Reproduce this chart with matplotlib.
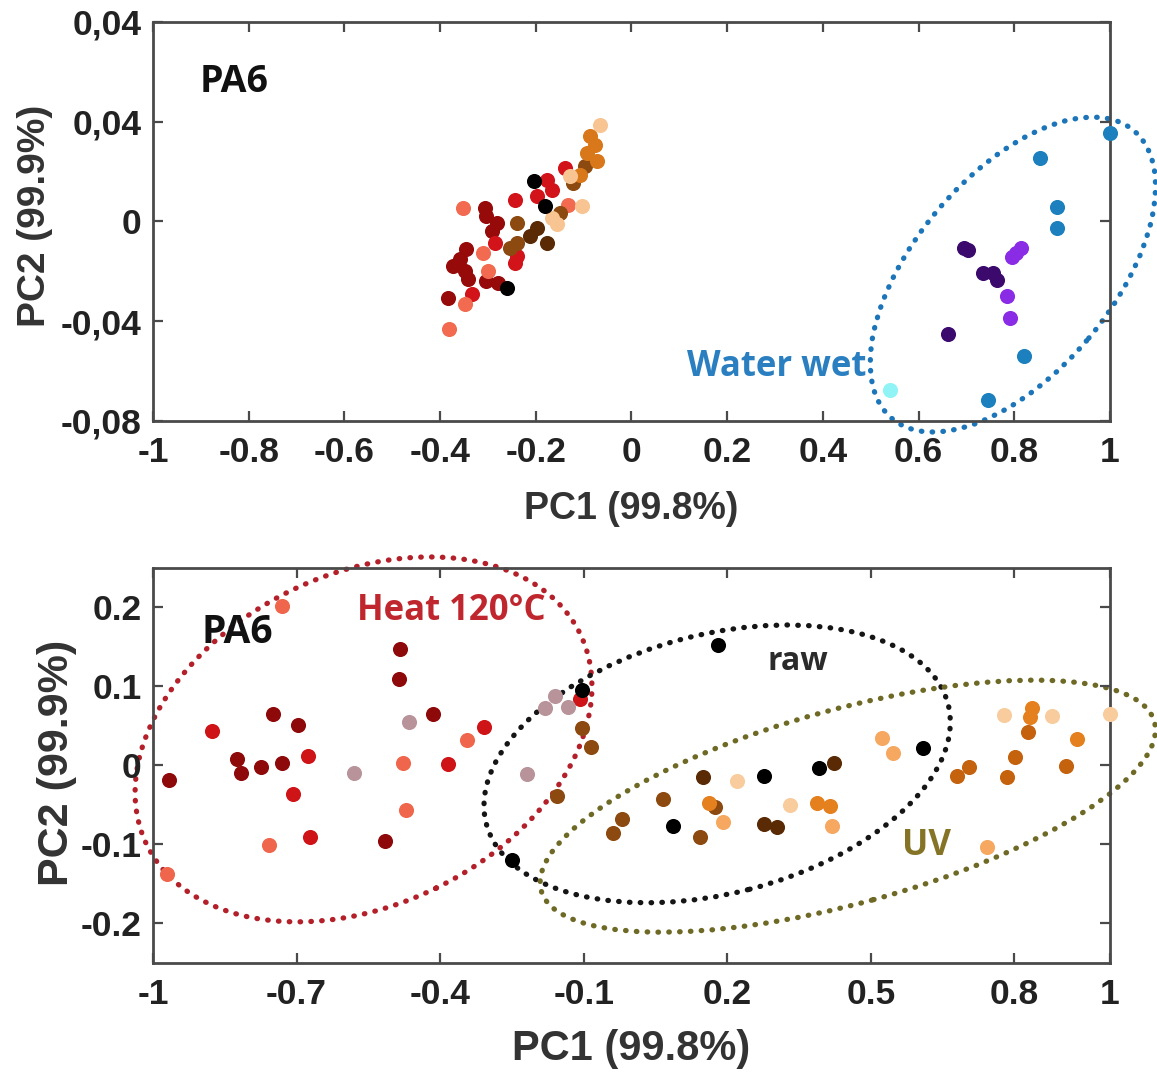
import matplotlib
matplotlib.use("Agg")
import matplotlib.pyplot as plt
from matplotlib.patches import Ellipse
from matplotlib.transforms import ScaledTranslation

DPI = 100

# ---- upper panel: PA6, water wet vs. the rest --------------------------- #
top_darkred_x = [-0.306, -0.303, -0.282, -0.292, -0.345, -0.358, -0.372, -0.348, -0.341, -0.303, -0.278, -0.383]
top_darkred_y = [0.0055, 0.0021, -0.0005, -0.0039, -0.0112, -0.0152, -0.0179, -0.0199, -0.0232, -0.0239, -0.0245, -0.0305]
top_red_x = [-0.139, -0.177, -0.167, -0.198, -0.244, -0.285, -0.240, -0.244, -0.334]
top_red_y = [0.0215, 0.0168, 0.0128, 0.0101, 0.0088, -0.0085, -0.0139, -0.0165, -0.0292]
top_salmon_x = [-0.132, -0.352, -0.310, -0.299, -0.348, -0.381]
top_salmon_y = [0.0068, 0.0055, -0.0125, -0.0199, -0.0332, -0.0432]
top_black_x = [-0.203, -0.181, -0.261]
top_black_y = [0.0161, 0.0061, -0.0265]
top_darkbrown_x = [-0.198, -0.213, -0.177]
top_darkbrown_y = [-0.0025, -0.0059, -0.0085]
top_brown_x = [-0.097, -0.122, -0.150, -0.240, -0.240, -0.253]
top_brown_y = [0.0221, 0.0155, 0.0035, -0.0005, -0.0085, -0.0105]
top_orange_x = [-0.087, -0.077, -0.094, -0.073, -0.107]
top_orange_y = [0.0341, 0.0308, 0.0275, 0.0241, 0.0188]
top_peach_x = [-0.066, -0.129, -0.104, -0.167, -0.156]
top_peach_y = [0.0388, 0.0181, 0.0061, 0.0015, -0.0012]

wet_blue_x = [1.0, 0.854, 0.890, 0.890, 0.820, 0.746]
wet_blue_y = [0.0355, 0.0255, 0.0059, -0.0028, -0.0539, -0.0715]
wet_darkpurple_x = [0.694, 0.704, 0.735, 0.756, 0.763, 0.662]
wet_darkpurple_y = [-0.0105, -0.0115, -0.0205, -0.0205, -0.0236, -0.0452]
wet_purple_x = [0.815, 0.804, 0.796, 0.784, 0.791]
wet_purple_y = [-0.0105, -0.0125, -0.0141, -0.0299, -0.0389]
wet_cyan_x = [0.540]
wet_cyan_y = [-0.0676]

# ---- lower panel: PA6, heat / raw / UV ---------------------------------- #
bot_darkred_x = [-0.484, -0.485, -0.750, -0.697, -0.414, -0.824, -0.816, -0.775, -0.731, -0.966, -0.515]
bot_darkred_y = [0.148, 0.110, 0.065, 0.051, 0.065, 0.008, -0.009, -0.0015, 0.0036, -0.018, -0.096]
bot_red_x = [-0.876, -0.676, -0.383, -0.708, -0.671, -0.308, -0.108]
bot_red_y = [0.043, 0.012, 0.002, -0.036, -0.090, 0.049, 0.084]
bot_salmon_x = [-0.731, -0.343, -0.477, -0.471, -0.757, -0.971]
bot_salmon_y = [0.202, 0.032, 0.003, -0.056, -0.101, -0.137]
bot_mauve_x = [-0.465, -0.580, -0.160, -0.181, -0.132, -0.219]
bot_mauve_y = [0.055, -0.010, 0.088, 0.073, 0.074, -0.011]
bot_black_x = [0.181, -0.104, -0.250, 0.277, 0.087, 0.391, 0.609]
bot_black_y = [0.152, 0.096, -0.120, -0.013, -0.076, -0.003, 0.022]
bot_darkbrown_x = [0.150, 0.276, 0.304, 0.423]
bot_darkbrown_y = [-0.015, -0.074, -0.078, 0.003]
bot_brown_x = [-0.104, -0.085, -0.156, -0.020, -0.038, 0.066, 0.175, 0.143]
bot_brown_y = [0.047, 0.024, -0.039, -0.068, -0.086, -0.042, -0.052, -0.090]
bot_rust_x = [0.680, 0.706, 0.828, 0.802, 0.784, 0.908]
bot_rust_y = [-0.013, -0.0015, 0.042, 0.011, -0.015, -0.0006]
bot_orange_x = [0.161, 0.387, 0.414, 0.837, 0.833, 0.931]
bot_orange_y = [-0.048, -0.048, -0.051, 0.073, 0.061, 0.033]
bot_lightorange_x = [0.192, 0.419, 0.523, 0.546, 0.743]
bot_lightorange_y = [-0.071, -0.076, 0.035, 0.016, -0.103]
bot_peach_x = [0.220, 0.331, 0.779, 0.879, 1.0]
bot_peach_y = [-0.020, -0.050, 0.064, 0.062, 0.065]

top_yticks = [-0.08, -0.04, 0, 0.04, 0.08]
top_yticklabels = ["-0,08", "-0,04", "0", "0,04", "0,04"]
top_xticks = [-1, -0.8, -0.6, -0.4, -0.2, 0, 0.2, 0.4, 0.6, 0.8, 1]
top_xticklabels = ["-1", "-0.8", "-0.6", "-0.4", "-0.2", "0", "0.2", "0.4", "0.6", "0.8", "1"]
bot_xticks = [-1, -0.7, -0.4, -0.1, 0.2, 0.5, 0.8, 1]
bot_xticklabels = ["-1", "-0.7", "-0.4", "-0.1", "0.2", "0.5", "0.8", "1"]
bot_yticks = [-0.2, -0.1, 0, 0.1, 0.2]
bot_yticklabels = ["-0.2", "-0.1", "0", "0.1", "0.2"]

TICK_FONT = dict(family="Liberation Sans", weight="bold")
NOTE_FONT = dict(family="Open Sans", weight="bold")
SPINE = "#4a4a4a"
MS = 118


def style_axes(ax, xticks, xlabels, yticks, ylabels, xlim, ylim, fs):
    ax.set_xlim(*xlim)
    ax.set_ylim(*ylim)
    ax.set_xticks(xticks)
    ax.set_xticklabels(xlabels, fontsize=fs, color="#222222", **TICK_FONT)
    ax.set_yticks(yticks)
    ax.set_yticklabels(ylabels, fontsize=fs, color="#222222", **TICK_FONT)
    ax.tick_params(direction="in", length=7, width=1.6, color=SPINE,
                   top=True, right=True)
    ax.tick_params(axis="x", pad=11)
    ax.tick_params(axis="y", pad=8)
    for sp in ax.spines.values():
        sp.set_color(SPINE)
        sp.set_linewidth(2.0)


def ring(fig, ax, cx, cy, w_px, h_px, angle, color):
    # ellipse sized in pixels, anchored at a data point
    tr = fig.dpi_scale_trans + ScaledTranslation(cx, cy, ax.transData)
    e = Ellipse((0, 0), w_px / DPI, h_px / DPI, angle=angle, transform=tr,
                fill=False, ec=color, lw=3.8, ls=(0, (0.1, 1.95)),
                clip_on=False, zorder=1)
    e.set_capstyle("round")
    ax.add_patch(e)


def dots(ax, x, y, color):
    ax.scatter(x, y, s=MS, c=color, linewidths=0, zorder=3, clip_on=False)


fig = plt.figure(figsize=(1157 / DPI, 1072 / DPI), dpi=DPI)
ax1 = fig.add_axes([0.1322, 0.6073, 0.8272, 0.3722])
ax2 = fig.add_axes([0.1322, 0.1017, 0.8272, 0.3685])

# --- upper panel -------------------------------------------------------- #
style_axes(ax1, top_xticks, top_xticklabels, top_yticks, top_yticklabels,
           (-1, 1), (-0.08, 0.08), 25.5)
ring(fig, ax1, 0.797, -0.0213, 376, 198, 50, "#1b75b8")
dots(ax1, top_darkred_x, top_darkred_y, "#960a0a")
dots(ax1, top_red_x, top_red_y, "#d2141a")
dots(ax1, top_salmon_x, top_salmon_y, "#f26a4f")
dots(ax1, top_darkbrown_x, top_darkbrown_y, "#5a2a05")
dots(ax1, top_brown_x, top_brown_y, "#8c4a10")
dots(ax1, top_orange_x, top_orange_y, "#d8781a")
dots(ax1, top_peach_x, top_peach_y, "#f8c592")
dots(ax1, top_black_x, top_black_y, "#000000")
dots(ax1, wet_blue_x, wet_blue_y, "#1b80bd")
dots(ax1, wet_darkpurple_x, wet_darkpurple_y, "#3c0a6c")
dots(ax1, wet_purple_x, wet_purple_y, "#8a2be6")
dots(ax1, wet_cyan_x, wet_cyan_y, "#90f4f6")

ax1.text(0.049, 0.8246, "PA6", transform=ax1.transAxes, fontsize=27,
         color="#111111", va="baseline", **NOTE_FONT)
ax1.text(0.558, 0.113, "Water wet", transform=ax1.transAxes, fontsize=25,
         color="#2a7fc1", va="baseline", **NOTE_FONT)
ax1.set_xlabel("PC1 (99.8%)", fontsize=27, color="#333333", **TICK_FONT)
ax1.set_ylabel("PC2 (99.9%)", fontsize=28, color="#333333", **TICK_FONT)
ax1.xaxis.set_label_coords(0.5, -0.175)
ax1.yaxis.set_label_coords(-0.104, 0.514)

# --- lower panel -------------------------------------------------------- #
style_axes(ax2, bot_xticks, bot_xticklabels, bot_yticks, bot_yticklabels,
           (-1, 1), (-0.25, 0.25), 25.5)
ring(fig, ax2, -0.560, 0.033, 482, 331, 26, "#b3202a")
ring(fig, ax2, 0.179, 0.002, 477, 259, 14.5, "#151515")
ring(fig, ax2, 0.452, -0.0515, 636, 194, 15.4, "#6e6a26")
dots(ax2, bot_darkred_x, bot_darkred_y, "#8e0a0a")
dots(ax2, bot_red_x, bot_red_y, "#cf1418")
dots(ax2, bot_salmon_x, bot_salmon_y, "#f0664c")
dots(ax2, bot_mauve_x, bot_mauve_y, "#b8939a")
dots(ax2, bot_darkbrown_x, bot_darkbrown_y, "#5a2a05")
dots(ax2, bot_brown_x, bot_brown_y, "#8c4a10")
dots(ax2, bot_rust_x, bot_rust_y, "#c4620e")
dots(ax2, bot_orange_x, bot_orange_y, "#e5801e")
dots(ax2, bot_lightorange_x, bot_lightorange_y, "#f6a860")
dots(ax2, bot_peach_x, bot_peach_y, "#f9cc9e")
dots(ax2, bot_black_x, bot_black_y, "#000000")

ax2.text(0.051, 0.81, "PA6", transform=ax2.transAxes, fontsize=28,
         color="#111111", va="baseline", **NOTE_FONT)
ax2.text(0.213, 0.868, "Heat 120°C", transform=ax2.transAxes, fontsize=25,
         color="#c0262d", va="baseline", **NOTE_FONT)
ax2.text(0.642, 0.742, "raw", transform=ax2.transAxes, fontsize=23,
         color="#2b2b2b", va="baseline", **NOTE_FONT)
ax2.text(0.783, 0.273, "UV", transform=ax2.transAxes, fontsize=25,
         color="#857326", va="baseline", **NOTE_FONT)
ax2.set_xlabel("PC1 (99.8%)", fontsize=30, color="#333333", **TICK_FONT)
ax2.set_ylabel("PC2 (99.9%)", fontsize=31, color="#333333", **TICK_FONT)
ax2.xaxis.set_label_coords(0.5, -0.167)
ax2.yaxis.set_label_coords(-0.079, 0.506)

fig.savefig("out.png", dpi=DPI)
